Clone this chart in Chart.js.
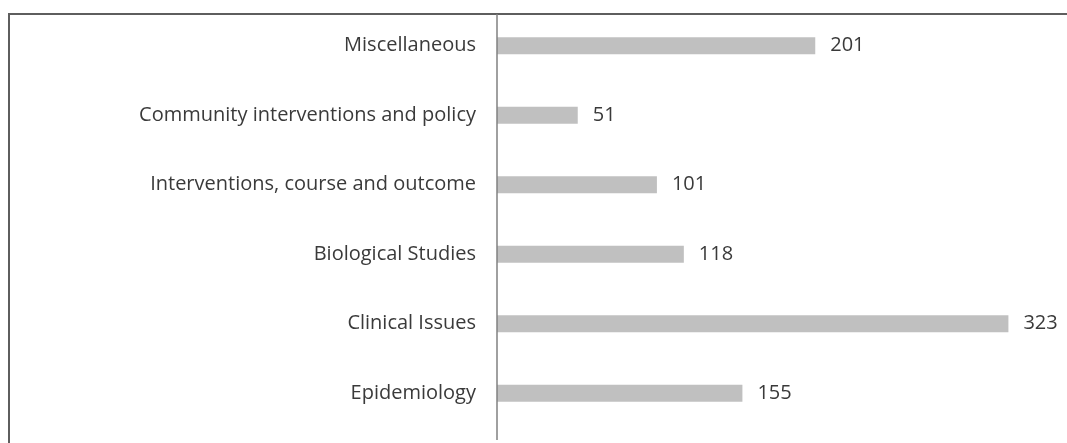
<!DOCTYPE html>
<html>
<head>
<meta charset="utf-8">
<script src="https://cdn.jsdelivr.net/npm/chart.js@4"></script>
<style>
  html, body { margin: 0; padding: 0; background: #fff; }
  #wrap { position: relative; width: 1067px; height: 443px; }
</style>
</head>
<body>
<div id="wrap"><canvas id="chart" width="1067" height="443"></canvas></div>
<script>
// categories top to bottom
const categories = [
    "Miscellaneous",
    "Community interventions and policy",
    "Interventions, course and outcome",
    "Biological Studies",
    "Clinical Issues",
    "Epidemiology"
];
const counts = [201, 51, 101, 118, 323, 155];

const labelFont = "'Open Sans', sans-serif";
const labelSize = 20;

// frame + axis line + value labels
const decorPlugin = {
    id: "decor",
    afterDatasetsDraw(chart) {
        const c = chart.ctx;
        const area = chart.chartArea;
        c.save();
        // outer frame (top and left only visible)
        c.strokeStyle = "#5e5e5e";
        c.lineWidth = 2;
        c.beginPath();
        c.moveTo(9, 443);
        c.lineTo(9, 14);
        c.lineTo(1067, 14);
        c.stroke();
        // category axis line
        c.strokeStyle = "#808080";
        c.lineWidth = 1.5;
        c.beginPath();
        c.moveTo(area.left, 14);
        c.lineTo(area.left, 440);
        c.stroke();
        // value labels
        const meta = chart.getDatasetMeta(0);
        c.fillStyle = "#3a3a3a";
        c.font = labelSize + "px " + labelFont;
        c.textAlign = "left";
        c.textBaseline = "middle";
        meta.data.forEach((bar, i) => {
            c.fillText(String(counts[i]), bar.x + 15, bar.y);
        });
        c.restore();
    }
};

const ctx = document.getElementById("chart").getContext("2d");
const chart = new Chart(ctx, {
    type: "bar",
    data: {
        labels: categories,
        datasets: [{
            data: counts,
            backgroundColor: "#c0c0c0",
            barPercentage: 0.245,
            categoryPercentage: 1
        }]
    },
    options: {
        indexAxis: "y",
        responsive: false,
        animation: false,
        layout: { padding: { top: 11, bottom: 15, left: 0, right: 0 } },
        plugins: {
            legend: { display: false },
            tooltip: { enabled: false }
        },
        scales: {
            x: {
                display: false,
                min: 0,
                max: 360
            },
            y: {
                afterFit(scale) {
                    scale.width = 497;
                    scale.paddingTop = 0;
                    scale.paddingBottom = 0;
                },
                grid: { display: false },
                border: { display: false },
                ticks: {
                    padding: 13,
                    color: "#3a3a3a",
                    font: { size: labelSize, family: labelFont }
                }
            }
        }
    },
    plugins: [decorPlugin]
});
</script>
</body>
</html>
